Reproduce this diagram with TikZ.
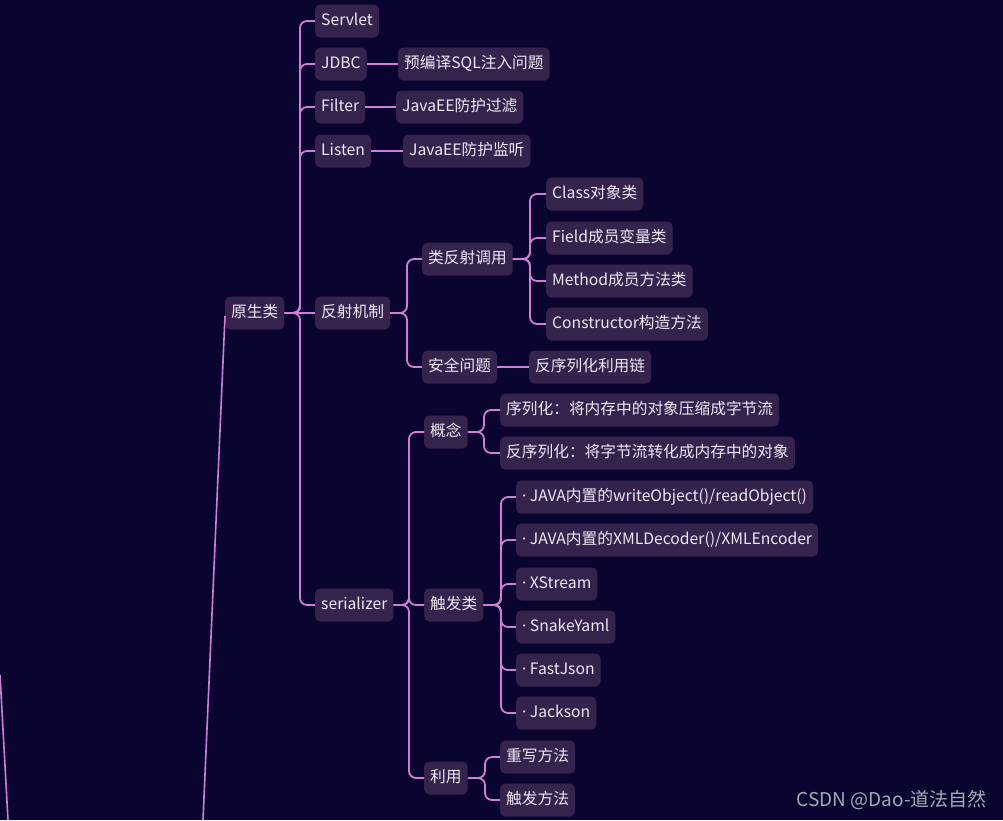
\documentclass[tikz,border=0pt]{standalone}
\usepackage{fontspec}
\setmainfont{Noto Sans CJK SC}
\newfontfamily\latinfont{Noto Sans}
\newcommand{\mdot}{{\latinfont ·}}
\definecolor{bg}{HTML}{0A0530}
\definecolor{nodefill}{HTML}{35234E}
\definecolor{linec}{HTML}{D07FD4}
\definecolor{txt}{HTML}{EEE6F2}
\definecolor{wmc}{HTML}{A8A8B0}
\begin{document}
\begin{tikzpicture}[x=1pt,y=-1pt,
  box/.style={fill=nodefill, rounded corners=5pt, text=txt,
    font=\fontsize{15.7}{18}\selectfont, inner xsep=6pt, inner ysep=0pt,
    minimum height=33pt, anchor=west, text height=12pt, text depth=3.5pt},
  conn/.style={draw=linec, line width=1.8pt, rounded corners=7pt},
  farline/.style={draw=linec, line width=1.6pt}]
\fill[bg] (0,0) rectangle (1003,820);
\useasboundingbox (0,0) rectangle (1003,820);

% bus coordinates
\coordinate (b1) at (300,0);
\coordinate (b2) at (407,0);
\coordinate (b3) at (530,0);
\coordinate (b4) at (409,0);
\coordinate (b5) at (484,0);
\coordinate (b6) at (501,0);
\coordinate (b7) at (485,0);
\coordinate (farA) at (0,675);
\coordinate (farB) at (8,820);
\coordinate (farC) at (203,820);

% nodes
\node[box] (srv) at (315,21) {Servlet};
\node[box] (jdbc) at (315,64) {JDBC};
\node[box] (sql) at (398,64) {预编译SQL注入问题};
\node[box] (flt) at (315,107) {Filter};
\node[box] (fltv) at (396,107) {JavaEE防护过滤};
\node[box] (lsn) at (315,151) {Listen};
\node[box] (lsnv) at (403,151) {JavaEE防护监听};
\node[box] (yuan) at (225,313) {原生类};
\node[box] (fs) at (315,313) {反射机制};
\node[box] (lfs) at (422,259) {类反射调用};
\node[box] (cls) at (546,194) {Class对象类};
\node[box] (fld) at (546,238) {Field成员变量类};
\node[box] (mth) at (546,281) {Method成员方法类};
\node[box] (ctr) at (546,324) {Constructor构造方法};
\node[box] (aq) at (422,367) {安全问题};
\node[box] (fxl) at (529,367) {反序列化利用链};
\node[box] (ser) at (315,605) {serializer};
\node[box] (gn) at (424,432) {概念};
\node[box] (xl) at (500,410) {序列化：将内存中的对象压缩成字节流};
\node[box] (fxlh) at (500,453) {反序列化：将字节流转化成内存中的对象};
\node[box] (cf) at (424,605) {触发类};
\node[box] (t1) at (516,497) {\mdot{} JAVA内置的writeObject()/readObject()};
\node[box] (t2) at (516,540) {\mdot{} JAVA内置的XMLDecoder()/XMLEncoder};
\node[box] (t3) at (516,584) {\mdot{} XStream};
\node[box] (t4) at (516,627) {\mdot{} SnakeYaml};
\node[box] (t5) at (516,670) {\mdot{} FastJson};
\node[box] (t6) at (516,713) {\mdot{} Jackson};
\node[box] (ly) at (424,778) {利用};
\node[box] (cx) at (500,757) {重写方法};
\node[box] (cff) at (500,800) {触发方法};

\node[font=\fontsize{19}{22}\selectfont, text=wmc, anchor=east, inner sep=0pt] (wm) at (987,800) {CSDN @Dao-道法自然};

% far lines
\draw[farline] (farA) -- (farB);
\draw[farline] ([yshift=-3pt]yuan.west) -- (farC);

% connectors
\foreach \c in {srv,jdbc,flt,lsn,ser}
  \draw[conn] (yuan.east) -- (yuan.east -| b1) |- (\c.west);
\draw[conn] (yuan.east) -- (fs.west);
\draw[conn] (jdbc.east) -- (sql.west);
\draw[conn] (flt.east) -- (fltv.west);
\draw[conn] (lsn.east) -- (lsnv.west);
\foreach \c in {lfs,aq}
  \draw[conn] (fs.east) -- (fs.east -| b2) |- (\c.west);
\foreach \c in {cls,fld,mth,ctr}
  \draw[conn] (lfs.east) -- (lfs.east -| b3) |- (\c.west);
\draw[conn] (aq.east) -- (fxl.west);
\foreach \c in {gn,cf,ly}
  \draw[conn] (ser.east) -- (ser.east -| b4) |- (\c.west);
\foreach \c in {xl,fxlh}
  \draw[conn] (gn.east) -- (gn.east -| b5) |- (\c.west);
\foreach \c in {t1,t2,t3,t4,t5,t6}
  \draw[conn] (cf.east) -- (cf.east -| b6) |- (\c.west);
\foreach \c in {cx,cff}
  \draw[conn] (ly.east) -- (ly.east -| b7) |- (\c.west);
\end{tikzpicture}
\end{document}
